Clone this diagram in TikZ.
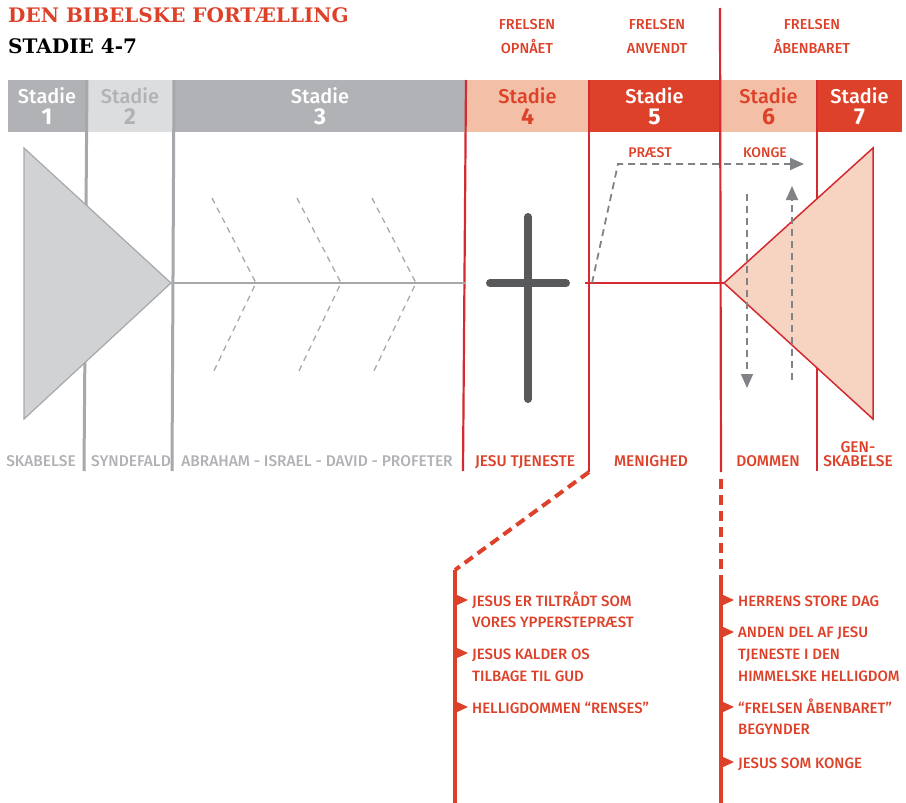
\documentclass[tikz,border=0pt]{standalone}
\usepackage{fontspec}
\setmainfont{Fira Sans}[UprightFont=* Medium,BoldFont=* Bold]
\newfontfamily\slabfont{DejaVu Serif}
\usetikzlibrary{arrows.meta}

\definecolor{bibred}{HTML}{DD4129}
\definecolor{linered}{HTML}{D42A30}
\definecolor{salmon}{HTML}{F3BFA6}
\definecolor{palesalmon}{HTML}{F7D4C2}
\definecolor{bargray}{HTML}{B1B2B5}
\definecolor{palegray}{HTML}{DCDDDF}
\definecolor{linegray}{HTML}{A7A8AB}
\definecolor{trigray}{HTML}{D1D2D4}
\definecolor{arrowgray}{HTML}{808285}
\definecolor{crossgray}{HTML}{58595B}

\tikzset{
  stadietext/.style={anchor=base,inner sep=0pt,font=\fontsize{20}{20}\selectfont},
  stadienum/.style={anchor=base,inner sep=0pt,font=\fontsize{23}{23}\selectfont\bfseries},
  caps/.style={anchor=base,inner sep=0pt,text height=11pt,text depth=0pt,font=\fontsize{15.5}{15.5}\selectfont},
  head/.style={anchor=base,inner sep=0pt,font=\fontsize{14.5}{14.5}\selectfont,text=bibred},
  item/.style={anchor=base west,inner sep=0pt,font=\fontsize{15}{15}\selectfont,text=bibred},
  redline/.style={linered,line width=2.2pt},
  grayline/.style={linegray,line width=3pt},
  thickred/.style={bibred,line width=4pt},
  chevron/.style={linegray,line width=1.3pt,dash pattern=on 6pt off 5pt},
  grayarrow/.style={arrowgray,line width=1.8pt,dash pattern=on 7pt off 5pt,
    -{Triangle[length=14pt,width=12pt]}},
}

% list marker on a red line
\newcommand{\marker}[2]{\fill[bibred] (#1,#2-6) -- (#1+13,#2) -- (#1,#2+6) -- cycle;}

\begin{document}
\begin{tikzpicture}[x=1pt,y=-1pt]
\useasboundingbox (0,0) rectangle (906,803);

% title
\node[anchor=base west,inner sep=0pt,text=bibred,font=\slabfont\bfseries\fontsize{20}{20}\selectfont] (title) at (8,23) {DEN BIBELSKE FORTÆLLING};
\node[anchor=base west,inner sep=0pt,text=black,font=\slabfont\bfseries\fontsize{20}{20}\selectfont] (subtitle) at (8,53) {STADIE 4-7};

% headers
\node[head] (fo1) at (527,30) {FRELSEN};
\node[head] (fo2) at (527,53) {OPNÅET};
\node[head] (fa1) at (657,30) {FRELSEN};
\node[head] (fa2) at (657,53) {ANVENDT};
\node[head] (fb1) at (812,30) {FRELSEN};
\node[head] (fb2) at (812,53) {ÅBENBARET};

% stage bar
\foreach \xa/\xb/\fc/\tc/\n in {8/86/bargray/white/1,86/174/palegray/bargray/2,
  174/466/bargray/white/3,466/589/salmon/bibred/4,589/720/bibred/white/5,
  720/817/salmon/bibred/6,817/902/bibred/white/7}{
  \fill[\fc] (\xa,80) rectangle (\xb,132);
  \node[stadietext,text=\tc] (st\n) at ({(\xa+\xb)/2},103) {Stadie};
  \node[stadienum,text=\tc] (num\n) at ({(\xa+\xb)/2},124) {\n};
}

% vertical lines
\draw[grayline] (87,80) -- (84,471);
\draw[grayline] (174,80) -- (172,471);
\draw[redline] (466,80) -- (463,471);
\draw[redline] (589,80) -- (589,472);
\draw[redline] (720,8) -- (721,472);
\draw[redline] (817,80) -- (817,471);

% axis
\draw[linegray,line width=1.5pt] (172,283) -- (466,283);
\draw[linered,line width=1.5pt] (585,283) -- (724,283);

% chevrons
\foreach \x in {256,341,416}
  \draw[chevron] (\x-44,198) -- (\x,283) -- (\x-44,375);

% triangles
\filldraw[fill=trigray,draw=linegray,line width=1.2pt] (24,148) -- (171,283) -- (24,419) -- cycle;
\filldraw[fill=palesalmon,draw=linered,line width=1.5pt] (873,148) -- (724,283) -- (873,419) -- cycle;

% cross
\draw[crossgray,line width=8pt,line cap=round] (528,217) -- (528,399);
\draw[crossgray,line width=8pt,line cap=round] (490,283) -- (566,283);

% priest and king
\draw[grayarrow] (592,283) -- (618,164) -- (804,164);
\draw[grayarrow] (747,194) -- (747,388);
\draw[grayarrow] (792,380) -- (792,186);
\node[head,font=\fontsize{14}{14}\selectfont] (praest) at (650,157) {PRÆST};
\node[head,font=\fontsize{14}{14}\selectfont] (konge) at (765,157) {KONGE};

% stage labels
\node[caps,text=bargray] (lab1) at (41,466) {SKABELSE};
\node[caps,text=bargray] (lab2) at (131,466) {SYNDEFALD};
\node[caps,text=bargray] (lab3) at (317,466) {ABRAHAM - ISRAEL - DAVID - PROFETER};
\node[caps,text=bibred] (lab4) at (525,466) {JESU TJENESTE};
\node[caps,text=bibred] (lab5) at (651,466) {MENIGHED};
\node[caps,text=bibred] (lab6) at (768,466) {DOMMEN};
\node[caps,text=bibred] (lab7a) at (858,452) {GEN-};
\node[caps,text=bibred] (lab7b) at (858,466) {SKABELSE};

% lines down to the lists
\draw[thickred,dash pattern=on 10pt off 6pt] (589,472) -- (455,570);
\draw[thickred] (455,570) -- (455,803);
\draw[thickred,dash pattern=on 10pt off 6pt] (721,479) -- (721,575);
\draw[thickred] (721,575) -- (721,803);

% left list
\marker{455}{600}
\node[item] (a1) at (472,606) {JESUS ER TILTRÅDT SOM};
\node[item] (a2) at (472,627) {VORES YPPERSTEPRÆST};
\marker{455}{653}
\node[item] (b1) at (472,659) {JESUS KALDER OS};
\node[item] (b2) at (472,681) {TILBAGE TIL GUD};
\marker{455}{707}
\node[item] (c1) at (472,713) {HELLIGDOMMEN “RENSES”};

% right list
\marker{721}{600}
\node[item] (d1) at (738,606) {HERRENS STORE DAG};
\marker{721}{632}
\node[item] (e1) at (738,637) {ANDEN DEL AF JESU};
\node[item] (e2) at (738,659) {TJENESTE I DEN};
\node[item] (e3) at (738,681) {HIMMELSKE HELLIGDOM};
\marker{721}{707}
\node[item] (f1) at (738,713) {“FRELSEN ÅBENBARET”};
\node[item] (f2) at (738,734) {BEGYNDER};
\marker{721}{762}
\node[item] (g1) at (738,768) {JESUS SOM KONGE};
\end{tikzpicture}
\end{document}
